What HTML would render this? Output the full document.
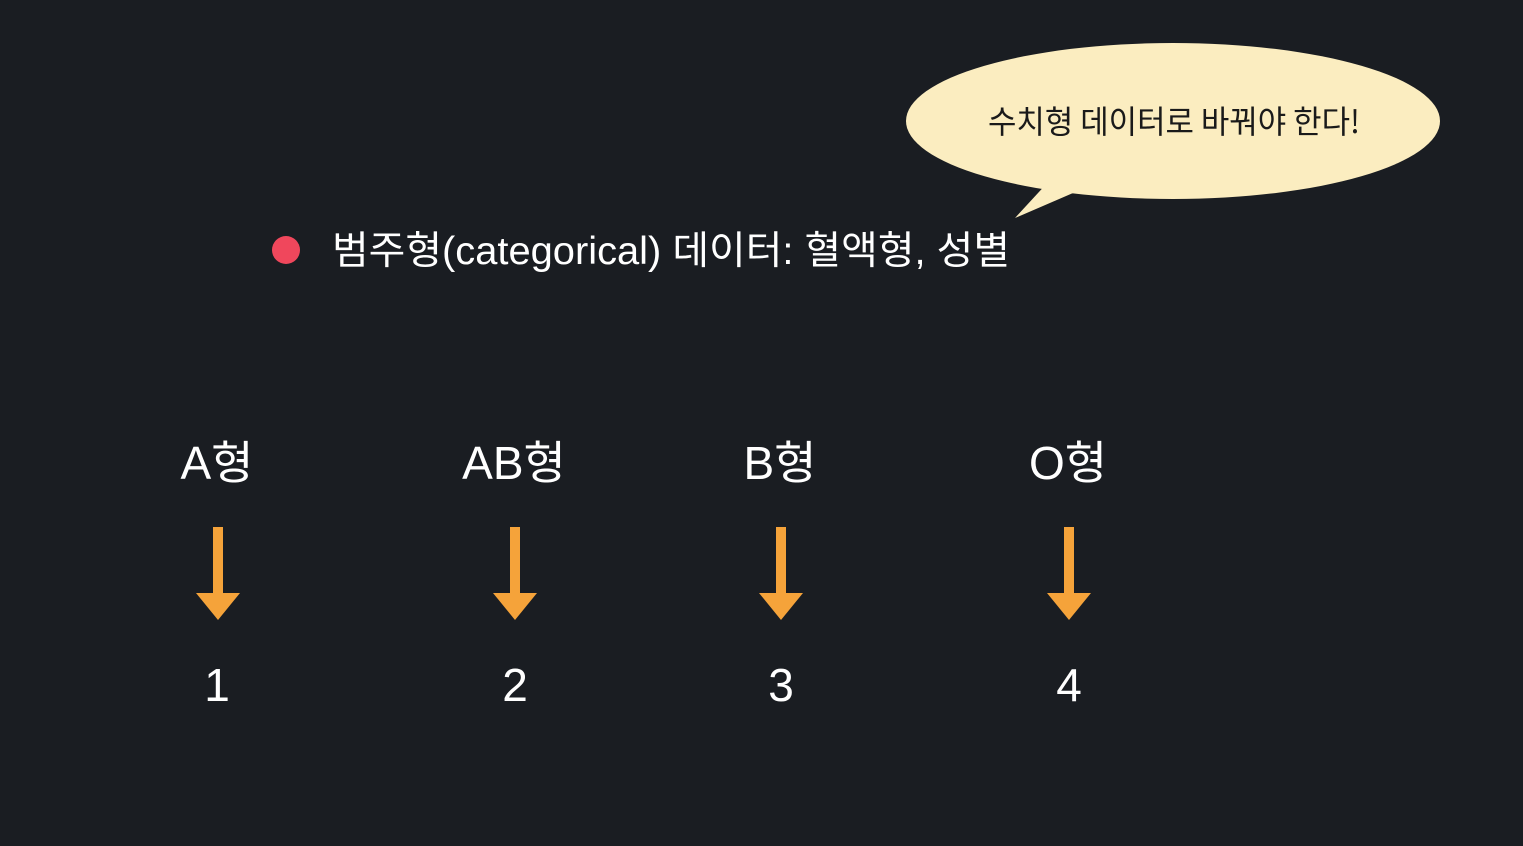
<!DOCTYPE html>
<html>
<head>
<meta charset="utf-8">
<style>
html,body{margin:0;padding:0;}
body{width:1523px;height:846px;background:#1a1d22;position:relative;overflow:hidden;font-family:"Liberation Sans","Noto Sans CJK KR",sans-serif;color:#fff;}
</style>
</head>
<body>
<svg width="1523" height="846" style="position:absolute;left:0;top:0">
  <g>
    <path d="M1015,218 L1080,190 L1050,180 Z" fill="#fbedc0"/>
    <ellipse cx="1173" cy="121" rx="267" ry="78" fill="#fbedc0"/>
    <text x="988" y="133" font-size="32" fill="#1a1a1a" textLength="372" lengthAdjust="spacingAndGlyphs" font-family="'Noto Sans CJK KR',sans-serif">수치형 데이터로 바꿔야 한다!</text>
  </g>
  <circle cx="286" cy="250" r="14" fill="#f0475c"/>
  <g fill="#f5a33a">
    <g><rect x="213" y="527" width="10" height="70"/><path d="M196,593 L240,593 L218,620 Z"/></g>
    <g><rect x="510" y="527" width="10" height="70"/><path d="M493,593 L537,593 L515,620 Z"/></g>
    <g><rect x="776" y="527" width="10" height="70"/><path d="M759,593 L803,593 L781,620 Z"/></g>
    <g><rect x="1064" y="527" width="10" height="70"/><path d="M1047,593 L1091,593 L1069,620 Z"/></g>
  </g>
  <g font-family="'Liberation Sans','Noto Sans CJK KR',sans-serif" fill="#fff" text-anchor="middle">
    <text x="332" y="264" font-size="39" text-anchor="start" textLength="678" lengthAdjust="spacingAndGlyphs">범주형(categorical) 데이터: 혈액형, 성별</text>
    <text x="217" y="479" font-size="46">A형</text>
    <text x="514" y="479" font-size="46">AB형</text>
    <text x="780" y="479" font-size="46">B형</text>
    <text x="1068" y="479" font-size="46">O형</text>
    <text x="217" y="701" font-size="46">1</text>
    <text x="515" y="701" font-size="46">2</text>
    <text x="781" y="701" font-size="46">3</text>
    <text x="1069" y="701" font-size="46">4</text>
  </g>
</svg>
</body>
</html>
